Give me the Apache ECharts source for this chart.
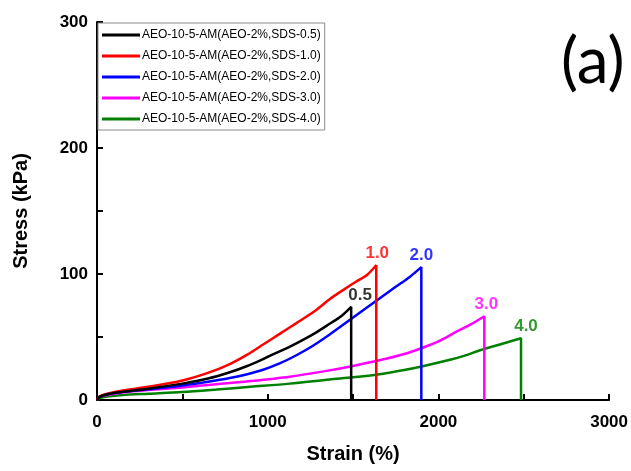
<!DOCTYPE html>
<html>
<head>
<meta charset="utf-8">
<script src="https://cdn.jsdelivr.net/npm/echarts@6/dist/echarts.min.js"></script>
<style>
  html, body { margin: 0; padding: 0; background: #fff; }
  #chart { width: 631px; height: 471px; }
</style>
</head>
<body>
<div id="chart"></div>
<script>
// Stress-strain curves, [strain %, stress kPa]; each ends with the break drop to zero
const sds05 = [[0,0],[15,2.5],[60,4.5],[150,6.5],[300,9],[500,13],[650,17],[778,22],[880,27],[973,32.5],[1070,38.5],[1168,45],[1270,52.5],[1363,60.5],[1430,66.5],[1489,74],[1489,0]];
const sds10 = [[0,0],[15,3],[60,5],[150,7.5],[300,10.5],[500,15.5],[650,21.5],[778,28.5],[880,36],[973,44],[1070,52.5],[1168,61],[1270,70],[1363,80],[1450,88],[1519,94],[1580,99],[1636,107],[1636,0]];
const sds20 = [[0,0],[15,2.5],[60,4.5],[150,6.5],[300,8.5],[500,11.5],[650,14.5],[778,17.5],[880,20.5],[973,24],[1070,29],[1168,35.5],[1270,43.5],[1363,52],[1460,61.5],[1557,71],[1655,80.5],[1752,90],[1830,97.5],[1900,105.5],[1900,0]];
const sds30 = [[0,0],[15,2.5],[60,4],[150,6],[300,8],[500,10],[700,12.5],[900,15],[1129,18.5],[1363,23.5],[1500,27],[1655,31.5],[1800,36.5],[1908,41.5],[2000,46.5],[2103,54],[2190,60],[2269,66.5],[2269,0]];
const sds40 = [[0,0],[15,1.5],[60,2.8],[150,4],[300,5],[500,6.3],[700,8.3],[900,10.5],[1129,13],[1363,16.3],[1500,18],[1655,20.5],[1800,23.8],[1908,26.8],[2050,31.3],[2150,35],[2240,39.3],[2370,44.5],[2484,49],[2484,0]];

const seriesNames = [
  'AEO-10-5-AM(AEO-2%,SDS-0.5)',
  'AEO-10-5-AM(AEO-2%,SDS-1.0)',
  'AEO-10-5-AM(AEO-2%,SDS-2.0)',
  'AEO-10-5-AM(AEO-2%,SDS-3.0)',
  'AEO-10-5-AM(AEO-2%,SDS-4.0)'
];
const peakLabels = ['0.5', '1.0', '2.0', '3.0', '4.0'];
const seriesData = [sds05, sds10, sds20, sds30, sds40];
const colors = ['#000000', '#ff0000', '#0000ff', '#ff00ff', '#008000'];
const labelOffsets = [[9, 0], [1, 0], [0, 0], [2, 0], [5, 0]];

const xTicks = { min: 0, max: 3000, interval: 500, labelStep: 1000 };
const yTicks = { min: 0, max: 300, interval: 50, labelStep: 100 };

const boldFont = 'Liberation Sans, Arial, sans-serif';

const lineSeries = seriesData.map((pts, i) => ({
  name: seriesNames[i],
  type: 'line',
  smooth: 0.3,
  showSymbol: false,
  symbol: 'none',
  lineStyle: { color: colors[i], width: 2.5 },
  itemStyle: { color: colors[i] },
  z: 5 - i,
  data: pts
}));

// value labels above each break point, taken from the curve's peak
const labelSeries = seriesData.map((pts, i) => ({
  name: seriesNames[i] + ' peak',
  type: 'scatter',
  symbolSize: 0,
  silent: true,
  z: 10,
  data: [pts[pts.length - 2]],
  label: {
    show: true,
    position: 'top',
    distance: 3,
    offset: labelOffsets[i],
    formatter: peakLabels[i],
    color: colors[i],
    fontSize: 17,
    fontWeight: 'bold',
    fontFamily: boldFont
  }
}));

const axisCommon = {
  axisLine: { show: true, lineStyle: { color: '#000', width: 2 } },
  axisTick: { show: true, inside: true, length: 6, lineStyle: { color: '#000', width: 2 } },
  splitLine: { show: false },
  nameTextStyle: { fontSize: 20, fontWeight: 'bold', fontFamily: boldFont, color: '#000' }
};

const chart = echarts.init(document.getElementById('chart'), null, { renderer: 'canvas' });
chart.setOption({
  animation: false,
  backgroundColor: '#ffffff',
  title: {
    text: '(a)',
    left: 556,
    top: 25,
    textStyle: { fontSize: 64, fontWeight: 'normal', fontFamily: 'Lato, Open Sans, sans-serif', color: '#000' }
  },
  legend: {
    data: seriesNames,
    orient: 'vertical',
    left: 98,
    top: 23,
    icon: 'rect',
    itemWidth: 38,
    itemHeight: 3,
    itemGap: 7,
    padding: [5, 4, 4, 4],
    borderColor: '#8a8a8a',
    borderWidth: 1,
    backgroundColor: '#fff',
    textStyle: { fontSize: 12, fontFamily: boldFont, color: '#000', lineHeight: 14, padding: [0, 0, 0, -3] }
  },
  grid: { left: 97, right: 21, top: 22, bottom: 71, containLabel: false },
  xAxis: Object.assign({}, axisCommon, {
    type: 'value',
    min: xTicks.min,
    max: xTicks.max,
    interval: xTicks.interval,
    name: 'Strain (%)',
    nameLocation: 'middle',
    nameGap: 44,
    axisLabel: {
      fontSize: 17, fontWeight: 'bold', fontFamily: boldFont, color: '#000', margin: 14,
      formatter: v => (v % xTicks.labelStep === 0 ? String(v) : '')
    }
  }),
  yAxis: Object.assign({}, axisCommon, {
    type: 'value',
    min: yTicks.min,
    max: yTicks.max,
    interval: yTicks.interval,
    name: 'Stress (kPa)',
    nameLocation: 'middle',
    nameGap: 66,
    axisLabel: {
      fontSize: 17, fontWeight: 'bold', fontFamily: boldFont, color: '#000', margin: 9,
      formatter: v => (v % yTicks.labelStep === 0 ? String(v) : '')
    }
  }),
  series: lineSeries.concat(labelSeries)
});
</script>
</body>
</html>
